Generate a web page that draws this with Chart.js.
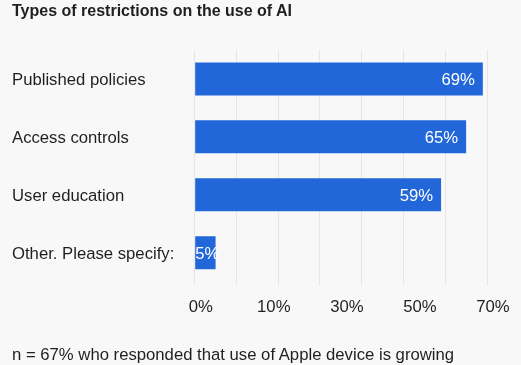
<!DOCTYPE html>
<html>
<head>
<meta charset="utf-8">
<script src="https://cdn.jsdelivr.net/npm/chart.js@4.4.1/dist/chart.umd.min.js"></script>
<style>
  html, body { margin: 0; padding: 0; background: #f8f8f8; }
  body { width: 521px; height: 365px; position: relative; overflow: hidden; font-family: "Liberation Sans", Arial, sans-serif; color: #1f1f1f; }
  #title { position: absolute; left: 12px; top: 1px; font-size: 16px; font-weight: 700; line-height: 20px; white-space: nowrap; }
  #footer { position: absolute; left: 12px; top: 344.5px; font-size: 16.7px; line-height: 20px; white-space: nowrap; }
  #wrap { position: absolute; left: 0; top: 0; width: 521px; height: 365px; }
</style>
</head>
<body>
<div id="wrap"><canvas id="c" width="521" height="365"></canvas></div>
<div id="title"></div>
<div id="footer"></div>
<script>
const chartTitle = "Types of restrictions on the use of AI";
const footnote = "n = 67% who responded that use of Apple device is growing";
const categories = ["Published policies", "Access controls", "User education", "Other. Please specify:"];
const values = [69, 65, 59, 5];
const tickLabels = ["0%", "10%", "30%", "50%", "70%"];
const axisMax = 70;

document.getElementById('title').textContent = chartTitle;
document.getElementById('footer').textContent = footnote;

const FONT = "'Liberation Sans', Arial, sans-serif";
const TEXT = '#1f1f1f';
const BAR = '#2167d9';

const valueLabels = {
  id: 'valueLabels',
  afterDatasetsDraw(chart) {
    const ctx = chart.ctx;
    const meta = chart.getDatasetMeta(0);
    ctx.save();
    ctx.font = '16.7px ' + FONT;
    ctx.fillStyle = '#ffffff';
    ctx.textBaseline = 'middle';
    ctx.textAlign = 'left';
    meta.data.forEach((el, i) => {
      const txt = values[i] + '%';
      const w = ctx.measureText(txt).width;
      const x = Math.max(el.x - 8 - w, el.base);
      ctx.fillText(txt, x, el.y + 1.5);
    });
    ctx.restore();
  }
};

new Chart(document.getElementById('c'), {
  type: 'bar',
  data: {
    labels: categories,
    datasets: [{
      data: values,
      backgroundColor: BAR,
      borderWidth: 0,
      barPercentage: 0.57,
      categoryPercentage: 1.0
    }]
  },
  options: {
    indexAxis: 'y',
    responsive: false,
    animation: false,
    devicePixelRatio: 1,
    layout: { padding: { left: 12, right: 34, top: 50, bottom: 0 } },
    plugins: { legend: { display: false }, tooltip: { enabled: false }, title: { display: false } },
    scales: {
      y: {
        type: 'category',
        grid: { display: false },
        border: { display: false },
        ticks: { color: TEXT, font: { family: FONT, size: 16.7 }, crossAlign: 'far', padding: 0, labelOffset: 1.5 },
        afterFit(scale) { scale.width = 182.7; }
      },
      x: {
        type: 'linear',
        position: 'bottom',
        weight: 0,
        min: 0,
        max: axisMax,
        grid: { color: '#e6e6e6', lineWidth: 1, drawTicks: true, tickLength: 4 },
        border: { display: false },
        ticks: { display: false, stepSize: 10 },
        afterFit(scale) { scale.height = 4; }
      },
      x2: {
        type: 'category',
        position: 'bottom',
        weight: 1,
        labels: tickLabels,
        offset: false,
        grid: { display: false },
        border: { display: false },
        ticks: { color: TEXT, font: { family: FONT, size: 16.7 }, labelOffset: 6, padding: 4, autoSkip: false, maxRotation: 0 },
        afterFit(scale) { scale.height = 79.4; }
      }
    }
  },
  plugins: [valueLabels]
});
</script>
</body>
</html>
